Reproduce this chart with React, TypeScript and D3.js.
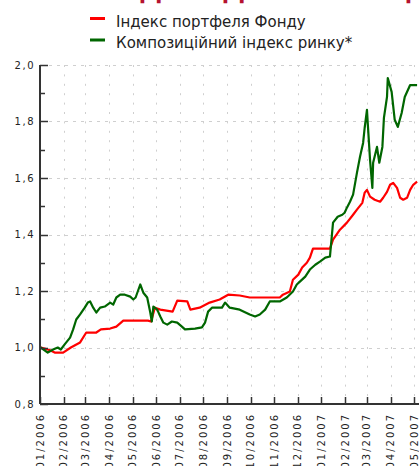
import React from "react";
import * as d3 from "d3";

const W = 419;
const H = 466;

const seriesNames = ["Індекс портфеля Фонду", "Композиційний індекс ринку*"];
const seriesColors = ["#ff0000", "#006600"];

const monthTicks = [
  "2006-01-01", "2006-02-01", "2006-03-01", "2006-04-01", "2006-05-01", "2006-06-01",
  "2006-07-01", "2006-08-01", "2006-09-01", "2006-10-01", "2006-11-01", "2006-12-01",
  "2007-01-01", "2007-02-01", "2007-03-01", "2007-04-01", "2007-05-01",
];

const yMajorTicks = [0.8, 1.0, 1.2, 1.4, 1.6, 1.8, 2.0];
const yMinorTicks = [0.9, 1.1, 1.3, 1.5, 1.7, 1.9];

const fundDates = [
  "2006-01-02", "2006-01-07", "2006-01-14", "2006-01-20", "2006-01-31", "2006-02-10",
  "2006-02-22", "2006-03-02", "2006-03-15", "2006-03-21", "2006-04-02", "2006-04-10",
  "2006-04-19", "2006-05-08", "2006-05-21", "2006-05-25", "2006-05-30", "2006-06-06",
  "2006-06-22", "2006-06-28", "2006-07-11", "2006-07-15", "2006-07-27", "2006-08-09",
  "2006-08-22", "2006-09-02", "2006-09-17", "2006-09-30", "2006-10-20", "2006-11-08",
  "2006-11-12", "2006-11-21", "2006-11-25", "2006-12-02", "2006-12-07", "2006-12-13",
  "2006-12-17", "2006-12-21", "2006-12-30", "2007-01-12", "2007-01-16", "2007-01-25",
  "2007-02-03", "2007-02-11", "2007-02-16", "2007-02-23", "2007-02-26", "2007-03-01",
  "2007-03-05", "2007-03-11", "2007-03-18", "2007-03-22", "2007-03-27", "2007-03-31",
  "2007-04-04", "2007-04-09", "2007-04-13", "2007-04-17", "2007-04-22", "2007-04-26",
  "2007-04-30", "2007-05-05",
];
const fundValues = [
  1.0, 0.996, 0.99, 0.982, 0.982, 1.0,
  1.018, 1.053, 1.053, 1.064, 1.067, 1.074,
  1.095, 1.095, 1.095, 1.092, 1.141, 1.134,
  1.127, 1.166, 1.163, 1.134, 1.141, 1.159,
  1.17, 1.187, 1.184, 1.177, 1.177, 1.177,
  1.187, 1.198, 1.24, 1.258, 1.283, 1.3,
  1.318, 1.35, 1.35, 1.35, 1.382, 1.417,
  1.442, 1.47, 1.488, 1.512, 1.548, 1.558,
  1.534, 1.523, 1.516, 1.53, 1.551, 1.576,
  1.583, 1.565, 1.53, 1.523, 1.53, 1.558,
  1.576, 1.587,
];

const marketDates = [
  "2006-01-02", "2006-01-11", "2006-01-18", "2006-01-24", "2006-01-28", "2006-02-02",
  "2006-02-09", "2006-02-13", "2006-02-17", "2006-02-22", "2006-02-28", "2006-03-04",
  "2006-03-07", "2006-03-11", "2006-03-15", "2006-03-20", "2006-03-26", "2006-04-02",
  "2006-04-06", "2006-04-10", "2006-04-15", "2006-04-21", "2006-04-28", "2006-05-02",
  "2006-05-05", "2006-05-11", "2006-05-15", "2006-05-20", "2006-05-24", "2006-05-26",
  "2006-05-28", "2006-06-02", "2006-06-06", "2006-06-10", "2006-06-15", "2006-06-21",
  "2006-06-28", "2006-07-04", "2006-07-08", "2006-07-21", "2006-07-30", "2006-08-03",
  "2006-08-07", "2006-08-12", "2006-08-25", "2006-08-29", "2006-09-04", "2006-09-17",
  "2006-09-30", "2006-10-07", "2006-10-13", "2006-10-20", "2006-10-26", "2006-11-08",
  "2006-11-17", "2006-11-25", "2006-11-30", "2006-12-04", "2006-12-11", "2006-12-17",
  "2006-12-24", "2006-12-30", "2007-01-06", "2007-01-12", "2007-01-16", "2007-01-22",
  "2007-01-28", "2007-01-31", "2007-02-03", "2007-02-07", "2007-02-11", "2007-02-16",
  "2007-02-20", "2007-02-24", "2007-02-26", "2007-03-01", "2007-03-02", "2007-03-05",
  "2007-03-08", "2007-03-09", "2007-03-14", "2007-03-17", "2007-03-21", "2007-03-23",
  "2007-03-27", "2007-03-28", "2007-04-02", "2007-04-06", "2007-04-10", "2007-04-15",
  "2007-04-19", "2007-04-26", "2007-05-05",
];
const marketValues = [
  1.0, 0.982, 0.993, 1.0, 0.993, 1.011,
  1.035, 1.064, 1.099, 1.117, 1.141, 1.159,
  1.163, 1.141, 1.124, 1.141, 1.145, 1.159,
  1.152, 1.177, 1.187, 1.187, 1.18, 1.17,
  1.177, 1.223, 1.194, 1.177, 1.124, 1.092,
  1.145, 1.134, 1.11, 1.088, 1.081, 1.092,
  1.088, 1.074, 1.064, 1.067, 1.071, 1.088,
  1.127, 1.141, 1.141, 1.159, 1.141, 1.134,
  1.117, 1.11, 1.117, 1.134, 1.163, 1.163,
  1.177, 1.198, 1.223, 1.233, 1.251, 1.276,
  1.293, 1.304, 1.318, 1.322, 1.442, 1.463,
  1.47, 1.477, 1.495, 1.516, 1.541, 1.618,
  1.675, 1.724, 1.777, 1.841, 1.795, 1.664,
  1.565, 1.654, 1.71, 1.654, 1.71, 1.813,
  1.887, 1.954, 1.905, 1.806, 1.781, 1.83,
  1.887, 1.929, 1.929,
];

const titleLetters = ["Д", "Д", "Д"];

const parse = d3.utcParse("%Y-%m-%d");

export default function App() {
  const left = 40;
  const right = 414;
  const plotRight = 417;
  const top = 65;
  const bottom = 404;

  const x = d3
    .scaleUtc()
    .domain([parse("2006-01-01")!, parse("2007-05-01")!])
    .range([left, right]);
  const y = d3.scaleLinear().domain([0.8, 2.0]).range([bottom, top]);

  const mk = (dates: string[], vals: number[]) =>
    dates.map((d, i) => ({ d: parse(d)!, v: vals[i] }));
  const series = [mk(fundDates, fundValues), mk(marketDates, marketValues)];

  const line = d3
    .line<{ d: Date; v: number }>()
    .x((p) => x(p.d))
    .y((p) => y(p.v));

  const fmtTick = d3.utcFormat("%m/%Y");
  const fmtY = (v: number) => v.toFixed(1).replace(".", ",");
  const titleX = [139, 222, 405];

  return (
    <svg
      width={W}
      height={H}
      style={{ position: "absolute", left: 0, top: 0, background: "#fff" }}
    >
      <rect x={0} y={0} width={W} height={H} fill="#fff" />
      {/* cut-off title */}
      {titleLetters.map((t, i) => (
        <text
          key={i}
          x={titleX[i]}
          y={-1}
          fontFamily="DejaVu Sans"
          fontWeight="bold"
          fontSize={26}
          fill="#b5122f"
        >
          {t}
        </text>
      ))}
      {/* legend */}
      {seriesNames.map((n, i) => (
        <g key={n}>
          <line
            x1={90}
            x2={105}
            y1={18.5 + i * 21.5}
            y2={18.5 + i * 21.5}
            stroke={seriesColors[i]}
            strokeWidth={3}
          />
          <text
            x={116}
            y={26.5 + i * 21}
            fontFamily="DejaVu Sans"
            fontSize={15}
            fill="#222"
          >
            {n}
          </text>
        </g>
      ))}
      {/* grid */}
      {yMajorTicks
        .filter((v) => v > 0.8)
        .map((v) => (
          <line
            key={"hg" + v}
            x1={left + 9}
            x2={plotRight}
            y1={Math.round(y(v)) + 0.5}
            y2={Math.round(y(v)) + 0.5}
            stroke="#cfcfcf"
            strokeWidth={1}
            strokeDasharray="3,5"
          />
        ))}
      {monthTicks.slice(1).map((t) => {
        const xx = Math.round(x(parse(t)!)) + 0.5;
        return (
          <line
            key={"vg" + t}
            x1={xx}
            x2={xx}
            y1={bottom - 8}
            y2={top}
            stroke="#cfcfcf"
            strokeWidth={1}
            strokeDasharray="2,7.4"
          />
        );
      })}
      {/* series */}
      {series.map((s, i) => (
        <path
          key={i}
          d={line(s) || ""}
          fill="none"
          stroke={seriesColors[i]}
          strokeWidth={2.2}
          strokeLinejoin="round"
        />
      ))}
      {/* axes */}
      <line x1={left} x2={left} y1={top} y2={bottom} stroke="#333" strokeWidth={2} />
      <line x1={left} x2={plotRight + 2} y1={bottom} y2={bottom} stroke="#333" strokeWidth={2} />
      {yMajorTicks.map((v) => (
        <g key={"yt" + v}>
          <line
            x1={left}
            x2={left + 8}
            y1={Math.round(y(v)) + 0.5}
            y2={Math.round(y(v)) + 0.5}
            stroke="#333"
            strokeWidth={1.5}
          />
          <text
            x={35}
            y={y(v)}
            dy="0.35em"
            textAnchor="end"
            fontFamily="DejaVu Sans"
            fontSize={10}
            letterSpacing={1.5}
            fill="#222"
          >
            {fmtY(v)}
          </text>
        </g>
      ))}
      {yMinorTicks.map((v) => (
        <line
          key={"ym" + v}
          x1={left}
          x2={left + 5}
          y1={Math.round(y(v)) + 0.5}
          y2={Math.round(y(v)) + 0.5}
          stroke="#333"
          strokeWidth={1.5}
        />
      ))}
      {monthTicks.map((t) => {
        const xx = x(parse(t)!);
        return (
          <g key={"xt" + t}>
            <line
              x1={Math.round(xx) + 0.5}
              x2={Math.round(xx) + 0.5}
              y1={bottom}
              y2={bottom - 7}
              stroke="#333"
              strokeWidth={1.5}
            />
            <text
              transform={`translate(${xx + 3.5},${bottom + 9}) rotate(-90)`}
              textAnchor="end"
              fontFamily="DejaVu Sans"
              fontSize={10}
              letterSpacing={2}
              fill="#222"
            >
              {fmtTick(parse(t)!)}
            </text>
          </g>
        );
      })}
    </svg>
  );
}
